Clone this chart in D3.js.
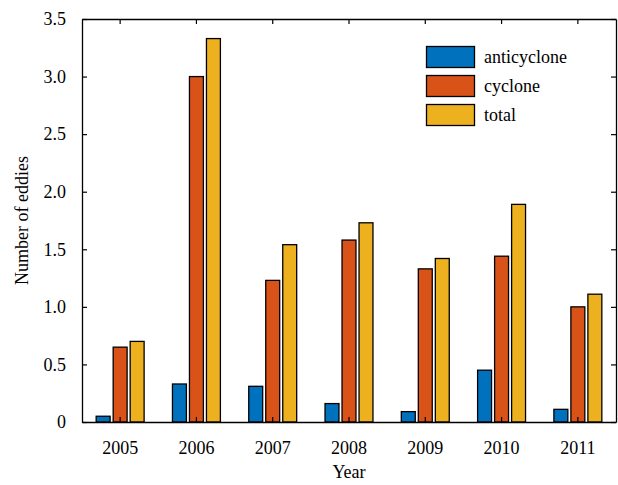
<!DOCTYPE html>
<html><head><meta charset="utf-8">
<script src="https://cdn.jsdelivr.net/npm/d3@7"></script>
<style>body{margin:0;background:#fff}svg{display:block}text{font-family:"Liberation Serif","Times New Roman",serif;fill:#000}</style>
</head><body><svg id="c" width="618" height="485"></svg>
<script>
const years = ["2005","2006","2007","2008","2009","2010","2011"];
const seriesNames = ["anticyclone","cyclone","total"];
const anticyclone = [0.05,0.33,0.31,0.16,0.09,0.45,0.11];
const cyclone = [0.65,3.00,1.23,1.58,1.33,1.44,1.00];
const total = [0.70,3.33,1.54,1.73,1.42,1.89,1.11];
const yTicks = [0,0.5,1.0,1.5,2.0,2.5,3.0,3.5];
const colors = ["#0072BD","#D95319","#EDB120"];

const series = [anticyclone, cyclone, total];
const L=82, R=616, T=19, B=422;
const svg = d3.select("#c");
const x0 = d3.scaleBand().domain(years).range([L,R]).padding(0);
const groupW = 51;
const x1 = d3.scaleBand().domain(seriesNames).range([0,groupW]).paddingInner(0.18).paddingOuter(0.09);
const y = d3.scaleLinear().domain([0,3.5]).range([B,T]);

// bars
years.forEach((yr,i)=>{
  const g = svg.append("g").attr("transform",`translate(${x0(yr)+x0.bandwidth()/2-groupW/2},0)`);
  seriesNames.forEach((s,j)=>{
    const v = series[j][i];
    g.append("rect").attr("x",x1(s)).attr("width",x1.bandwidth())
      .attr("y",y(v)).attr("height",y(0)-y(v))
      .attr("fill",colors[j]).attr("stroke","#000").attr("stroke-width",1.3);
  });
});

// axes
const fmt = d=> d===0 ? "0" : d3.format(".1f")(d);
const axL = d3.axisLeft(y).tickValues(yTicks).tickFormat(fmt).tickSizeInner(-5).tickSizeOuter(0).tickPadding(16);
const axR = d3.axisRight(y).tickValues(yTicks).tickFormat("").tickSizeInner(-5).tickSizeOuter(0);
const axB = d3.axisBottom(x0).tickSizeInner(-5).tickSizeOuter(0).tickPadding(19);
const axT = d3.axisTop(x0).tickFormat("").tickSizeInner(-5).tickSizeOuter(0);
function style(g){
  g.select(".domain").attr("stroke","#000").attr("stroke-width",1.3);
  g.selectAll(".tick line").attr("stroke","#000").attr("stroke-width",1.2);
  g.selectAll(".tick text").style("font-family",'"Liberation Serif",serif').style("font-size","18px").attr("fill","#000");
}
svg.append("g").attr("transform",`translate(${L},0)`).call(axL).call(style);
svg.append("g").attr("transform",`translate(${R},0)`).call(axR).call(style);
svg.append("g").attr("transform",`translate(0,${B})`).call(axB).call(style);
svg.append("g").attr("transform",`translate(0,${T})`).call(axT).call(style);

// labels
svg.append("text").attr("x",(L+R)/2).attr("y",478).attr("text-anchor","middle").style("font-size","18px").text("Year");
svg.append("text").attr("transform",`translate(28,${(T+B)/2}) rotate(-90)`).attr("text-anchor","middle").style("font-size","18px").text("Number of eddies");

// legend
const leg = svg.append("g");
seriesNames.forEach((s,j)=>{
  leg.append("rect").attr("x",426.5).attr("y",46.5+j*29).attr("width",48).attr("height",21)
    .attr("fill",colors[j]).attr("stroke","#000").attr("stroke-width",1.3);
  leg.append("text").attr("x",484).attr("y",57+j*29).attr("dy","0.35em").style("font-size","18px").text(s);
});
</script></body></html>
